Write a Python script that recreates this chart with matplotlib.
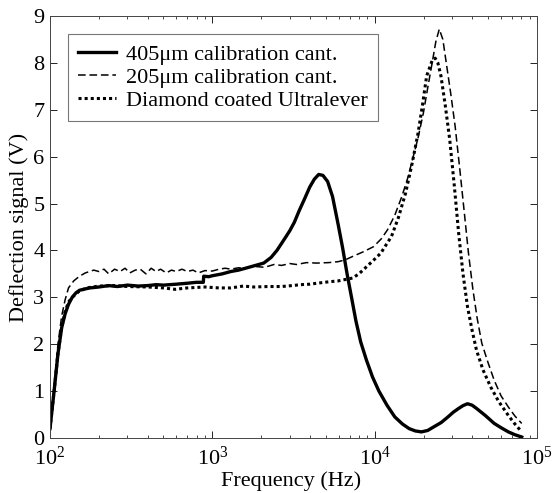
import numpy as np
import matplotlib
matplotlib.use("Agg")
import matplotlib.pyplot as plt
from matplotlib.ticker import LogLocator, LogFormatterMathtext

plt.rcParams['font.family'] = ['Liberation Serif', 'DejaVu Serif']
plt.rcParams['mathtext.fontset'] = 'stix'

# 405um calibration cantilever (solid)
f_405 = [100, 106, 112, 118, 124, 130, 137, 145, 152, 165, 176, 200, 230, 260, 300,
         350, 400, 450, 500, 600, 700, 800, 880, 885, 950, 1000, 1150, 1300, 1450,
         1600, 1800, 2073, 2300, 2500, 2670, 2850, 3000, 3200, 3430, 3700, 3980,
         4250, 4520, 4800, 5130, 5500, 5960, 6350, 6760, 7200, 7660, 8200, 8900,
         9700, 10620, 11900, 13300, 14800, 16300, 17800, 19400, 21200, 23200,
         25700, 28300, 30500, 32900, 35000, 37300, 39800, 42400, 48000, 54500,
         60000, 66600, 73000, 80500]
v_405 = [0.2, 1.0, 1.8, 2.35, 2.65, 2.85, 3.0, 3.1, 3.15, 3.18, 3.2, 3.22, 3.25,
         3.23, 3.26, 3.24, 3.25, 3.27, 3.26, 3.28, 3.3, 3.32, 3.32, 3.45, 3.44,
         3.46, 3.5, 3.55, 3.58, 3.62, 3.67, 3.73, 3.85, 4.0, 4.15, 4.3, 4.42, 4.6,
         4.85, 5.1, 5.35, 5.52, 5.62, 5.6, 5.47, 5.15, 4.55, 4.05, 3.5, 3.0, 2.5,
         2.05, 1.66, 1.3, 1.0, 0.7, 0.45, 0.3, 0.2, 0.15, 0.13, 0.16, 0.24, 0.33,
         0.45, 0.55, 0.63, 0.69, 0.73, 0.7, 0.63, 0.48, 0.31, 0.22, 0.13, 0.07, 0.02]

# 205um calibration cantilever (dashed)
f_205 = [100, 106, 112, 118, 124, 130, 140, 152, 165, 186, 200, 215, 230, 250, 270,
         290, 310, 335, 360, 390, 420, 450, 480, 520, 560, 600, 650, 700, 760, 820,
         900, 1000, 1100, 1200, 1300, 1450, 1600, 1800, 2100, 2400, 2670, 3000,
         3300, 3800, 4400, 5200, 5960, 6600, 7300, 8500, 9840, 11000, 12000, 13300,
         14700, 16000, 17100, 18500, 19950, 21300, 22600, 23800, 25000, 26300,
         27600, 29400, 31300, 33400, 35500, 37800, 40300, 42800, 45700, 50000,
         54500, 60000, 66600, 73000, 80500]
v_205 = [0.2, 1.1, 2.0, 2.6, 2.95, 3.2, 3.35, 3.45, 3.52, 3.58, 3.55, 3.6, 3.5,
         3.6, 3.55, 3.62, 3.52, 3.58, 3.6, 3.5, 3.62, 3.55, 3.6, 3.52, 3.58, 3.55,
         3.6, 3.55, 3.58, 3.52, 3.57, 3.56, 3.6, 3.62, 3.6, 3.63, 3.62, 3.66, 3.64,
         3.7, 3.68, 3.72, 3.7, 3.74, 3.73, 3.74, 3.76, 3.8, 3.87, 3.97, 4.08, 4.25,
         4.44, 4.75, 5.15, 5.55, 5.94, 6.4, 6.93, 7.5, 8.0, 8.45, 8.72, 8.5, 8.0,
         7.35, 6.65, 5.75, 4.87, 3.95, 3.16, 2.55, 2.02, 1.6, 1.23, 0.9, 0.66,
         0.47, 0.31]

# Diamond coated Ultralever (dotted)
f_dia = [100, 106, 112, 118, 124, 130, 137, 150, 168, 200, 250, 300, 400, 500,
         590, 700, 900, 1100, 1300, 1550, 1800, 2200, 2670, 3100, 3500, 4000,
         4400, 5200, 5960, 6600, 7300, 8000, 8900, 9900, 10900, 12700, 14000,
         15500, 17000, 18500, 19700, 20900, 22600, 23600, 24500, 25600, 27200,
         29000, 30900, 32900, 35000, 37300, 39800, 42400, 46500, 51800, 58000,
         66600, 73000, 80500]
v_dia = [0.2, 1.0, 1.8, 2.35, 2.7, 2.9, 3.0, 3.12, 3.2, 3.24, 3.25, 3.23, 3.22,
         3.2, 3.17, 3.2, 3.22, 3.2, 3.2, 3.24, 3.22, 3.23, 3.23, 3.25, 3.27, 3.28,
         3.3, 3.33, 3.35, 3.38, 3.41, 3.5, 3.65, 3.8, 3.94, 4.3, 4.7, 5.22, 5.85,
         6.5, 7.1, 7.72, 8.05, 8.1, 8.0, 7.72, 7.1, 6.36, 5.4, 4.37, 3.5, 2.8,
         2.3, 1.87, 1.45, 1.09, 0.78, 0.48, 0.3, 0.13]

fig = plt.figure(figsize=(5.53, 4.93), dpi=100)
ax = fig.add_axes([0.0904, 0.1116, 0.8807, 0.856])

ax.plot(f_405, v_405, color='black', lw=2.4, ls='-', label='405\u03bcm calibration cant.')
ax.plot(f_205, v_205, color='black', lw=1.1, ls=(0, (5, 2.5)), label='205\u03bcm calibration cant.')
ax.plot(f_dia, v_dia, color='black', lw=2.2, ls=(0, (1, 1)), label='Diamond coated Ultralever')

ax.set_xscale('log')
ax.set_xlim(100, 1e5)
ax.set_ylim(0, 9)
ax.set_yticks(range(10))
ax.xaxis.set_major_locator(LogLocator(base=10))
ax.xaxis.set_major_formatter(LogFormatterMathtext())
ax.xaxis.set_minor_locator(LogLocator(base=10, subs=np.arange(2, 10)))
ax.tick_params(which='both', direction='in', top=True, right=True, labelsize=16)
ax.tick_params(which='major', length=5, width=0.6)
ax.tick_params(which='minor', length=2.5, width=0.5)
ax.tick_params(axis='x', pad=6)
ax.tick_params(axis='y', pad=4)
for sp in ax.spines.values():
    sp.set_linewidth(0.7)
    sp.set_color('#444444')

ax.set_xlabel('Frequency (Hz)', fontsize=16, va='top')
ax.xaxis.set_label_coords(0.496, -0.08)
ax.set_ylabel('Deflection signal (V)', fontsize=16, labelpad=3)

leg = ax.legend(loc='upper left', bbox_to_anchor=(0.037, 0.957), fontsize=16,
                frameon=True, fancybox=False, handlelength=1.7, borderpad=0.45,
                labelspacing=0.12, handletextpad=0.45, borderaxespad=0)
leg.get_frame().set_edgecolor('#555555')
leg.get_frame().set_linewidth(0.8)

fig.savefig('out.png', dpi=100)
